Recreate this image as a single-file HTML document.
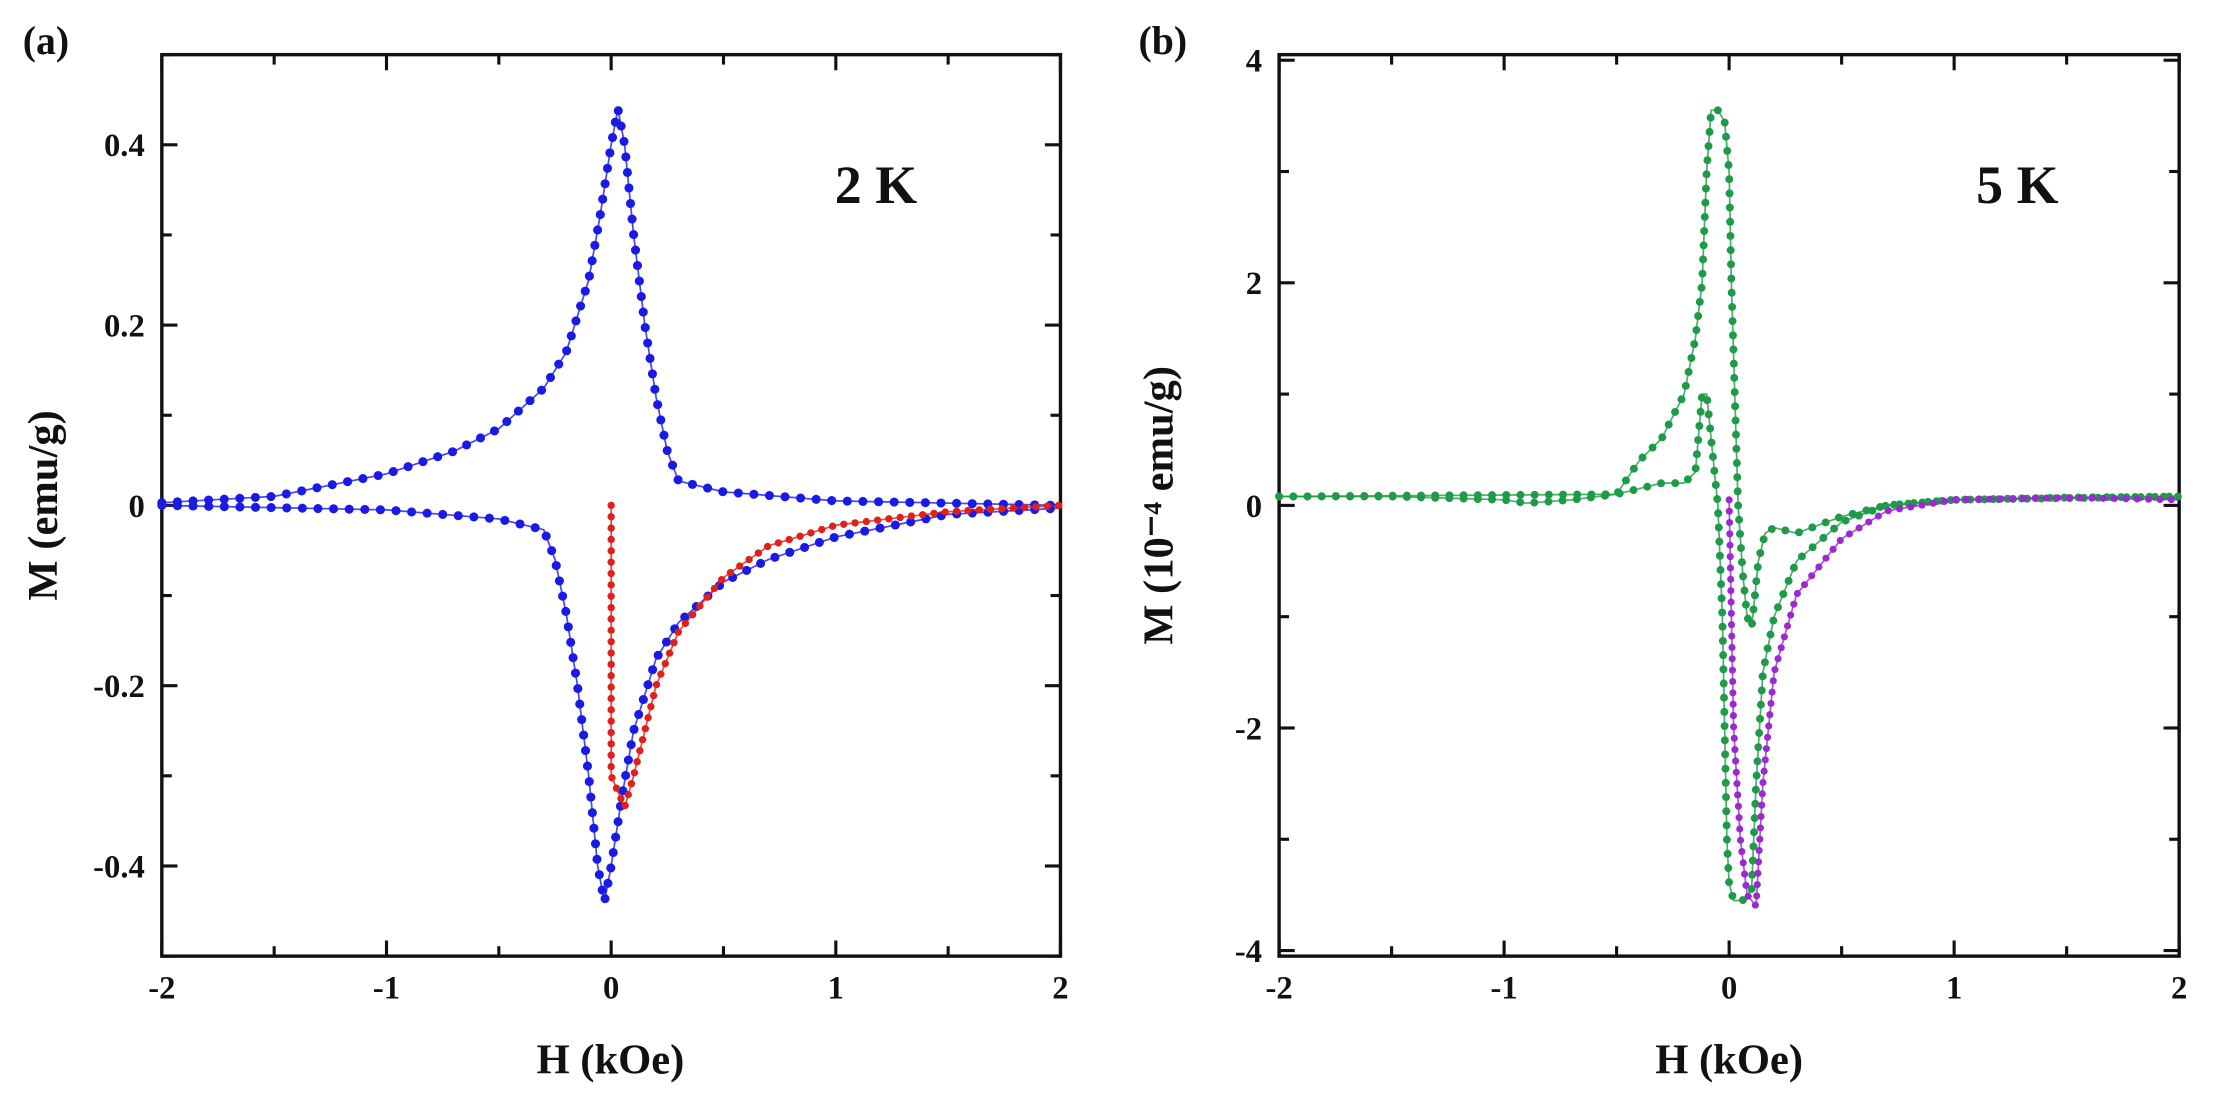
<!DOCTYPE html>
<html><head><meta charset="utf-8"><style>html,body{margin:0;padding:0;background:#fff}svg{display:block}text{font-family:"Liberation Serif",serif;font-weight:bold;fill:#111}</style></head>
<body>
<svg id="s" xmlns="http://www.w3.org/2000/svg" width="2226" height="1113" viewBox="0 0 1568 784">
<rect width="1568" height="784" fill="#fff"/>
<text x="16" y="38" font-size="28">(a)</text>
<text x="802" y="38" font-size="28">(b)</text>
<text x="588" y="143" font-size="38">2 K</text>
<text x="1392" y="143" font-size="38">5 K</text>
<text x="430" y="756" font-size="30" text-anchor="middle">H (kOe)</text>
<text x="1218" y="756" font-size="30" text-anchor="middle">H (kOe)</text>
<text transform="translate(40,356) rotate(-90)" font-size="30" text-anchor="middle">M (emu/g)</text>
<text transform="translate(826,356) rotate(-90)" font-size="30" text-anchor="middle">M (10⁻⁴ emu/g)</text>
<g id="g"></g>
</svg>
<script>
const NS="http://www.w3.org/2000/svg",G=document.getElementById('g');
function el(t,a,txt){const e=document.createElementNS(NS,t);for(const k in a)e.setAttribute(k,a[k]);if(txt!==undefined)e.textContent=txt;G.appendChild(e);return e;}
function panel(L,R,T,B,ymin,ymax,yMaj,yMin,yfmt){
  el('rect',{x:L,y:T,width:R-L,height:B-T,fill:'none',stroke:'#111','stroke-width':2.4});
  const X=h=>L+(h+2)/4*(R-L), Y=m=>B-(m-ymin)/(ymax-ymin)*(B-T);
  for(let h=-2;h<=2.001;h+=0.5){const maj=Math.abs(h-Math.round(h))<1e-6;const len=maj?11:7;const x=X(h);
    el('line',{x1:x,y1:B,x2:x,y2:B-len,stroke:'#111','stroke-width':2.2});
    el('line',{x1:x,y1:T,x2:x,y2:T+len,stroke:'#111','stroke-width':2.2});
    if(maj)el('text',{x:x,y:B+30,'font-size':23,'text-anchor':'middle'},String(Math.round(h)));}
  for(let m=Math.ceil(ymin/yMin)*yMin;m<=ymax+1e-9;m+=yMin){const r=m/yMaj;const maj=Math.abs(r-Math.round(r))<1e-6;const len=maj?11:7;const y=Y(m);
    el('line',{x1:L,y1:y,x2:L+len,y2:y,stroke:'#111','stroke-width':2.2});
    el('line',{x1:R,y1:y,x2:R-len,y2:y,stroke:'#111','stroke-width':2.2});
    if(maj)el('text',{x:L-12,y:y+8,'font-size':23,'text-anchor':'end'},yfmt(m));}
  return [X,Y];
}
function series(pts,X,Y,col,sp,r){
  const P=pts.map(p=>[X(p[0]),Y(p[1])]);
  el('polyline',{points:P.map(p=>p.join(',')).join(' '),fill:'none',stroke:col,'stroke-width':1.2,opacity:0.8});
  let acc=0;el('circle',{cx:P[0][0],cy:P[0][1],r:r,fill:col});
  for(let i=1;i<P.length;i++){const dx=P[i][0]-P[i-1][0],dy=P[i][1]-P[i-1][1],d=Math.hypot(dx,dy);let t=sp-acc;
    while(t<=d){el('circle',{cx:P[i-1][0]+dx*t/d,cy:P[i-1][1]+dy*t/d,r:r,fill:col});t+=sp;}acc=d-(t-sp);}
}
let [Xa,Ya]=panel(114,747,38.5,673.5,-0.5,0.5,0.2,0.1,m=>Math.abs(m)<1e-9?'0':m.toFixed(1));
const up=[[-2,0.003],[-1.5,0.01],[-1,0.035],[-0.7,0.06],[-0.5,0.085],[-0.3,0.13],[-0.2,0.17],[-0.1,0.25],[-0.05,0.32],[0,0.40],[0.03,0.44],[0.06,0.40],[0.1,0.3],[0.15,0.2],[0.2,0.12],[0.25,0.06],[0.3,0.027],[0.5,0.015],[1,0.005],[2,0]];
series(up,Xa,Ya,'#1a1ae6',11,3.2);
series(up.map(p=>[-p[0],-p[1]]).reverse(),Xa,Ya,'#1a1ae6',11,3.2);
series([[0,0],[0,-0.3],[0.06,-0.335],[0.1,-0.3],[0.2,-0.2],[0.3,-0.14],[0.5,-0.08],[0.7,-0.045],[1,-0.022],[1.5,-0.007],[2,0]],Xa,Ya,'#e0201a',8,2.6);
let [Xb,Yb]=panel(901,1535,38.5,673.5,-4.05,4.05,2,1,m=>String(Math.round(m)));
const gr='#1e9a48';
series([[-2,0.08],[-1.5,0.08],[-1,0.05],[-0.9,0.02],[-0.7,0.05],[-0.5,0.1],[-0.45,0.25],[-0.4,0.4],[-0.3,0.6],[-0.2,1.0],[-0.15,1.5],[-0.12,2.0],[-0.1,3.0],[-0.08,3.55],[-0.05,3.55],[-0.02,3.45],[0,3.0],[0.01,2.0],[0.025,1.0],[0.04,0],[0.06,-0.6],[0.08,-1.0],[0.1,-1.1],[0.13,-0.5],[0.16,-0.25],[0.2,-0.2],[0.3,-0.25],[0.5,-0.1],[0.7,0],[1,0.05],[1.5,0.07],[2,0.08]],Xb,Yb,gr,10,2.8);
series([[-2,0.08],[-0.5,0.1],[-0.4,0.15],[-0.3,0.2],[-0.2,0.2],[-0.15,0.3],[-0.12,1.0],[-0.1,1.0],[-0.08,0.6],[-0.05,0],[-0.03,-1],[-0.02,-2],[-0.01,-3],[0,-3.4],[0.02,-3.55],[0.06,-3.55],[0.1,-3.45],[0.12,-2.5],[0.15,-1.5],[0.2,-1.0],[0.3,-0.5],[0.5,-0.15],[0.7,0],[1,0.05],[2,0.08]],Xb,Yb,gr,10,2.8);
series([[0,0.05],[0.01,-1],[0.02,-2],[0.05,-3],[0.08,-3.5],[0.12,-3.6],[0.15,-2.5],[0.2,-1.5],[0.3,-0.8],[0.5,-0.3],[0.7,-0.05],[1,0.05],[1.5,0.07],[2,0.05]],Xb,Yb,'#9a2ad0',8,2.5);
</script>
</body></html>
